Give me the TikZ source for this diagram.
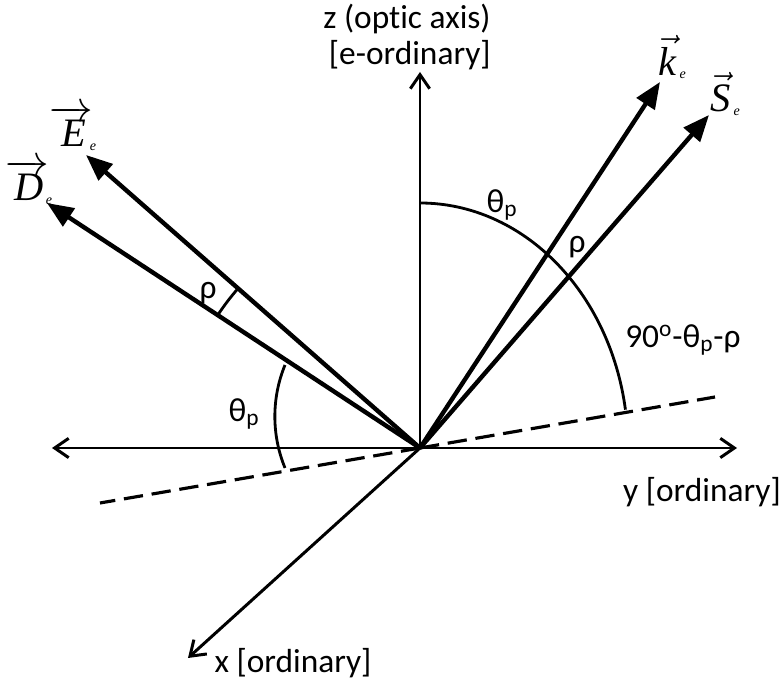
\documentclass[tikz,border=0pt]{standalone}
\usepackage{fontspec}
\setmainfont{Carlito}[Ligatures=NoCommon]
\newfontfamily\timesfont{Liberation Serif}
\usetikzlibrary{arrows.meta}

% field vectors: big letter with arrow, small index e
\newcommand{\longvec}[1]{{\fontsize{23}{23}\selectfont$\overrightarrow{\mbox{\timesfont\itshape #1}\kern-2pt}$}\kern-2pt\raisebox{-2pt}{\fontsize{8}{8}\timesfont\itshape e}}
\newcommand{\shortvec}[1]{{\fontsize{23}{23}\selectfont$\vec{\mbox{\timesfont\itshape #1}}$}\kern2pt\raisebox{-2pt}{\fontsize{8}{8}\timesfont\itshape e}}

\tikzset{
    axis/.style={line width=1.7pt, -{Straight Barb[length=8pt, width=11pt, line width=1.7pt]}},
    vect/.style={line width=2.5pt, -{Triangle[length=15pt, width=12pt]}},
    angarc/.style={line width=1.6pt},
    lbl/.style={font=\fontsize{19}{20}\selectfont, inner sep=0pt},
    veclbl/.style={inner sep=0pt},
}

\begin{document}
\begin{tikzpicture}[x=0.02cm, y=0.02cm]
    \useasboundingbox (-420,-237) rectangle (360,448);

    \coordinate (O) at (0,0);
    % axes
    \coordinate (yL) at (-368,0);
    \coordinate (yR) at (317,0);
    \coordinate (zT) at (0,376);
    \coordinate (xT) at (-232,-210);
    \draw[axis] (O) -- (zT);
    \draw[axis] (O) -- (yR);
    \draw[axis] (O) -- (yL);
    \draw[axis] (O) -- (xT);

    % dashed line in the plane
    \coordinate (dL) at (-320,-55);
    \coordinate (dR) at (295,51);
    \draw[line width=1.8pt, dash pattern=on 11pt off 5pt] (O) -- (dR);
    \draw[line width=1.8pt, dash pattern=on 11pt off 5pt] (O) -- (dL);

    % vectors
    \coordinate (Etip) at (-334,293);
    \coordinate (Dtip) at (-373,245);
    \coordinate (ktip) at (240,366);
    \coordinate (Stip) at (289,333);
    \draw[vect] (O) -- (Etip);
    \draw[vect] (O) -- (Dtip);
    \draw[vect] (O) -- (ktip);
    \draw[vect] (O) -- (Stip);

    % angle arcs
    \draw[angarc] (0,245) arc[start angle=90, end angle=9, x radius=208, y radius=245];
    \draw[angarc] (-135,83) arc[start angle=157.7, end angle=202.3, radius=135.7];
    \draw[angarc] (146.7:242) arc[start angle=146.7, end angle=138.8, radius=242];

    % labels
    \node[lbl, align=center] (zlab) at (-13,411) {z (optic axis)\\[1pt]\,[e-ordinary]};
    \node[lbl] (ylab) at (282,-44) {y [ordinary]};
    \node[lbl] (xlab) at (-127,-215) {x [ordinary]};
    \node[lbl] (thR) at (82,243) {θ\textsubscript{p}};
    \node[lbl] (rhoR) at (157,201) {ρ};
    \node[lbl] (compl) at (263,108) {90\textsuperscript{o}-θ\textsubscript{p}-ρ};
    \node[lbl] (thL) at (-176,34) {θ\textsubscript{p}};
    \node[lbl] (rhoL) at (-212,155) {ρ};

    \node[veclbl] (Elab) at (-347,320) {\longvec{E}};
    \node[veclbl] (Dlab) at (-391,266) {\longvec{D}};
    \node[veclbl] (klab) at (252,391) {\shortvec{k}};
    \node[veclbl] (Slab) at (305,354) {\shortvec{S}};
\end{tikzpicture}
\end{document}
